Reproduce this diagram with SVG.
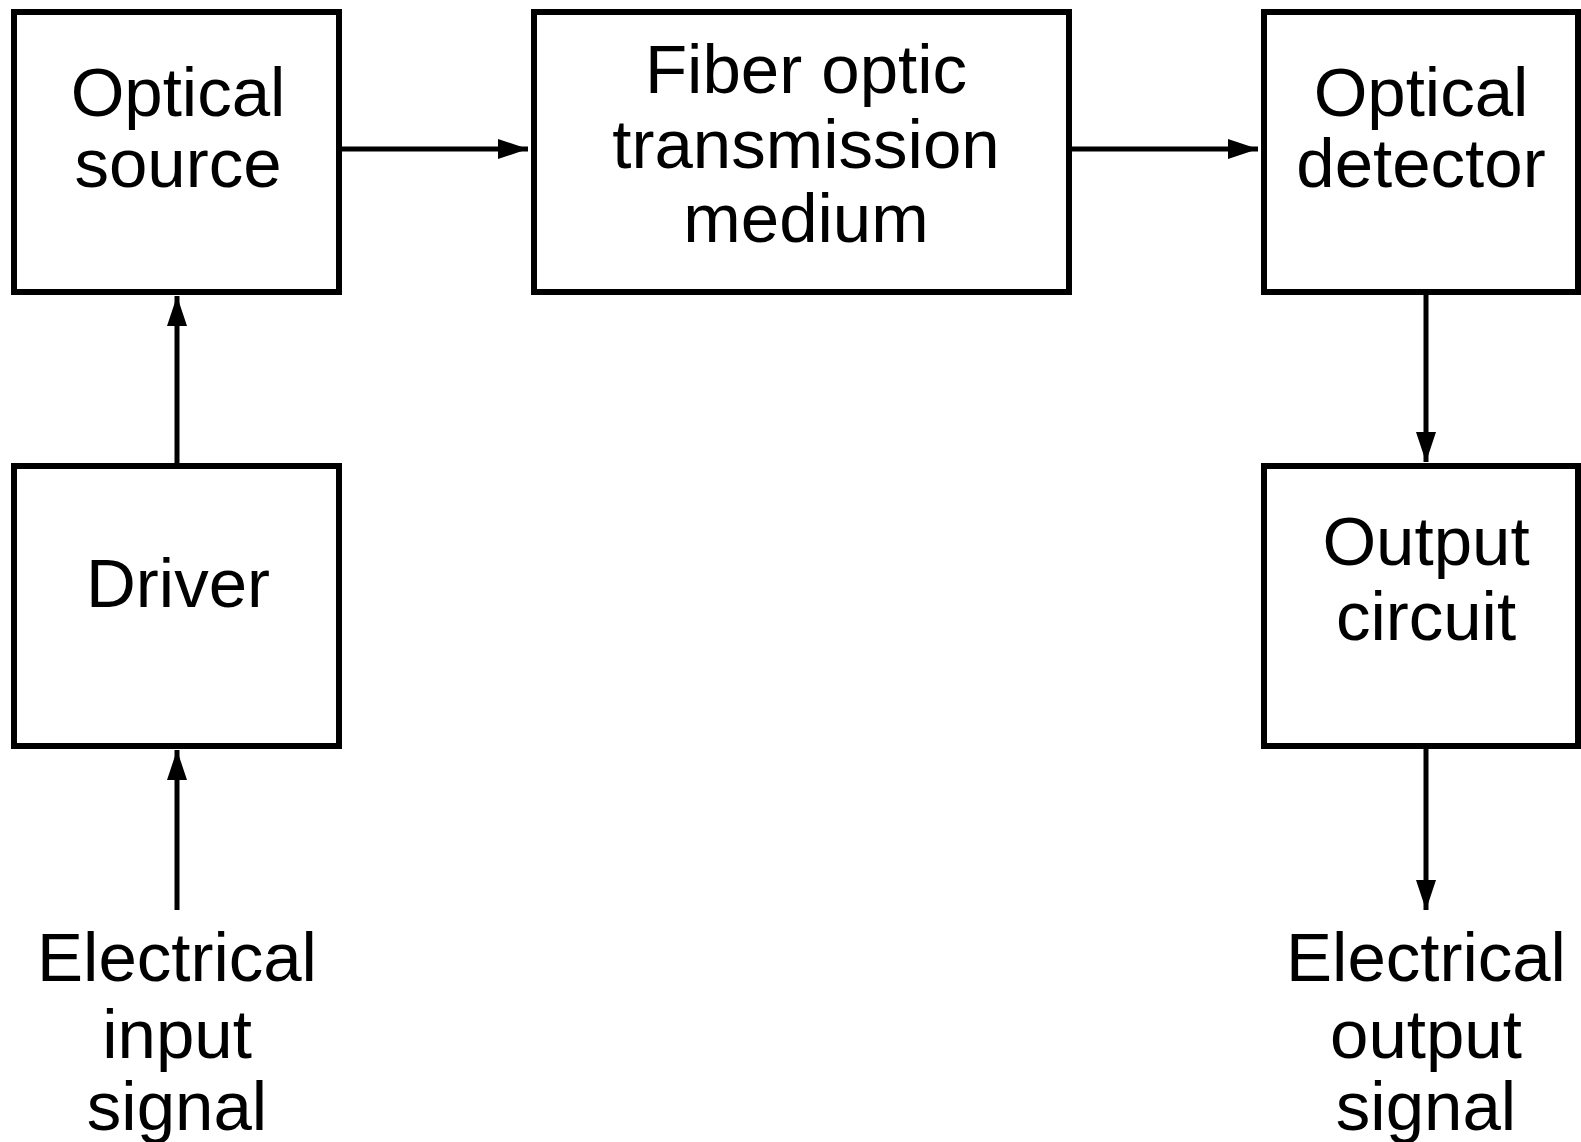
<svg xmlns="http://www.w3.org/2000/svg" width="1581" height="1142" viewBox="0 0 1581 1142">
<style>
.box{fill:#fff;stroke:#000;stroke-width:6}
.lbl{font-family:"Liberation Sans",Arial,sans-serif;font-size:69px;fill:#000;text-anchor:middle}
.con{stroke:#000;stroke-width:5;fill:none}
</style>
<defs>
<marker id="arr" markerUnits="userSpaceOnUse" markerWidth="40" markerHeight="30" viewBox="-34 -15 40 30" refX="0" refY="0" orient="auto">
<path d="M0,0 L-30,-10 L-30,10 Z" fill="#000"/>
</marker>
</defs>
<rect width="1581" height="1142" fill="#fff"/>
<g id="connectors">
<line class="con" x1="340" y1="149" x2="528" y2="149" marker-end="url(#arr)"/>
<line class="con" x1="1069" y1="149" x2="1258" y2="149" marker-end="url(#arr)"/>
<line class="con" x1="177" y1="466" x2="177" y2="296" marker-end="url(#arr)"/>
<line class="con" x1="177" y1="910" x2="177" y2="750" marker-end="url(#arr)"/>
<line class="con" x1="1426" y1="292" x2="1426" y2="462" marker-end="url(#arr)"/>
<line class="con" x1="1426" y1="746" x2="1426" y2="910" marker-end="url(#arr)"/>
</g>
<g id="optical-source">
<rect class="box" x="14" y="12" width="325" height="280"/>
<text class="lbl" x="178" y="116">Optical</text>
<text class="lbl" x="178" y="187">source</text>
</g>
<g id="fiber">
<rect class="box" x="534" y="12" width="535" height="280"/>
<text class="lbl" x="806" y="93">Fiber optic</text>
<text class="lbl" x="806" y="168">transmission</text>
<text class="lbl" x="806" y="242">medium</text>
</g>
<g id="optical-detector">
<rect class="box" x="1264" y="12" width="314" height="280"/>
<text class="lbl" x="1421" y="116">Optical</text>
<text class="lbl" x="1421" y="187">detector</text>
</g>
<g id="driver">
<rect class="box" x="14" y="466" width="325" height="280"/>
<text class="lbl" x="178" y="607">Driver</text>
</g>
<g id="output-circuit">
<rect class="box" x="1264" y="466" width="314" height="280"/>
<text class="lbl" x="1426" y="565">Output</text>
<text class="lbl" x="1426" y="640">circuit</text>
</g>
<g id="input-signal">
<text class="lbl" x="177" y="981">Electrical</text>
<text class="lbl" x="177" y="1058">input</text>
<text class="lbl" x="177" y="1130">signal</text>
</g>
<g id="output-signal">
<text class="lbl" x="1426" y="981">Electrical</text>
<text class="lbl" x="1426" y="1058">output</text>
<text class="lbl" x="1426" y="1130">signal</text>
</g>
</svg>
